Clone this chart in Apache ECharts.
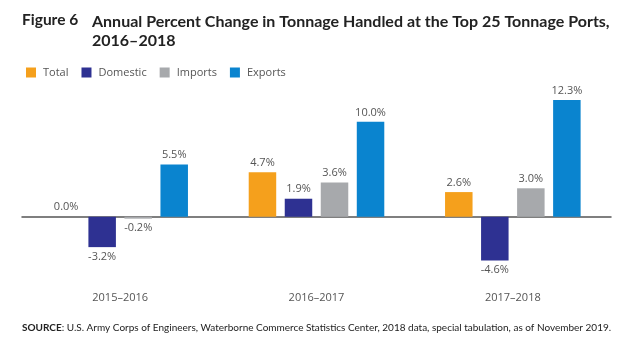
<!DOCTYPE html>
<html><head><meta charset="utf-8">
<script src="https://cdn.jsdelivr.net/npm/echarts@6/dist/echarts.min.js"></script>
<style>html,body{margin:0;padding:0;background:#fff}#c{width:634px;height:350px}</style>
</head><body><div id="c"></div>
<script>
const categories = ['2015–2016', '2016–2017', '2017–2018'];
const totalVals = [0.0, 4.7, 2.6];
const domesticVals = [-3.2, 1.9, -4.6];
const importsVals = [-0.2, 3.6, 3.0];
const exportsVals = [5.5, 10.0, 12.3];
const seriesNames = ['Total', 'Domestic', 'Imports', 'Exports'];
const colors = ['#F5A01C', '#2E3192', '#A7A9AC', '#0A84CF'];

const chart = echarts.init(document.getElementById('c'), null, {renderer: 'canvas'});
const valsList = [totalVals, domesticVals, importsVals, exportsVals];
const series = valsList.map((vals, i) => ({
  name: seriesNames[i],
  type: 'bar',
  barWidth: 27.5,
  barGap: '31%',
  itemStyle: {color: colors[i]},
  data: vals.map(v => ({
    value: v,
    label: {position: v < 0 ? 'bottom' : 'top'}
  })),
  label: {
    show: true,
    distance: 4,
    color: '#555',
    fontFamily: 'Open Sans',
    fontSize: 11,
    formatter: p => p.value.toFixed(1) + '%'
  }
}));

chart.setOption({
  animation: false,
  textStyle: {fontFamily: 'Open Sans'},
  title: [{
    text: 'Figure 6',
    left: 22, top: 12, padding: 0,
    textStyle: {fontFamily: 'Lato', fontWeight: 'bold', fontSize: 15.5, color: '#222'}
  }, {
    text: 'Annual Percent Change in Tonnage Handled at the Top 25 Tonnage Ports,\n2016–2018',
    left: 92, top: 12, padding: 0,
    textStyle: {fontFamily: 'Lato', fontWeight: 'bold', fontSize: 16, color: '#222', lineHeight: 19}
  }, {
    text: '{b|SOURCE}: U.S. Army Corps of Engineers, Waterborne Commerce Statistics Center, 2018 data, special tabulation, as of November 2019.',
    left: 22, top: 323, padding: 0,
    textStyle: {fontFamily: 'Lato', fontSize: 10, fontWeight: 'normal', color: '#222',
      rich: {b: {fontFamily: 'Lato', fontWeight: 'bold', fontSize: 10, color: '#222'}}}
  }],
  legend: {
    left: 26, top: 67, padding: 0,
    itemWidth: 10, itemHeight: 10, itemGap: 13,
    icon: 'rect',
    textStyle: {color: '#555', fontSize: 11, fontFamily: 'Open Sans', padding: [0, 0, 0, 2]},
    data: seriesNames
  },
  grid: {left: 22, right: 23, top: 83.9, height: 189.8, outerBoundsMode: 'none', containLabel: false},
  xAxis: {
    type: 'category',
    data: categories,
    axisLine: {onZero: true, lineStyle: {color: '#555', width: 1.5}},
    axisTick: {show: false},
    axisLabel: {margin: 19, color: '#555', fontSize: 11, fontFamily: 'Open Sans'}
  },
  yAxis: {
    type: 'value', min: -6, max: 14,
    show: false,
    splitLine: {show: false}
  },
  series: series
});
</script></body></html>
